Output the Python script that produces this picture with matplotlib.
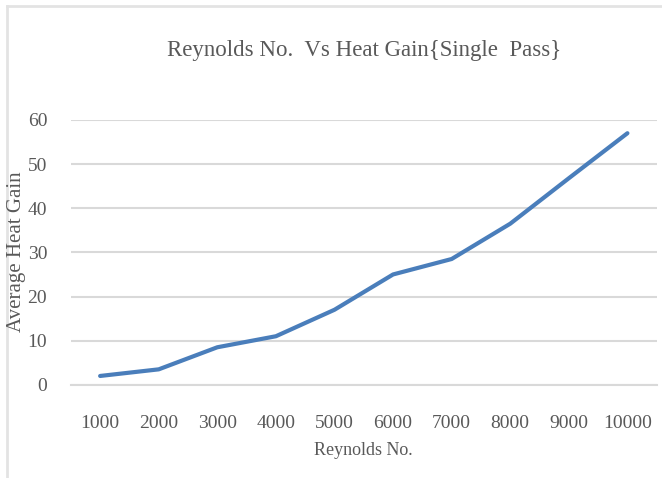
import matplotlib.pyplot as plt
from matplotlib.lines import Line2D

reynolds = ['1000', '2000', '3000', '4000', '5000', '6000', '7000', '8000', '9000', '10000']
heat_gain = [2.0, 3.5, 8.5, 11.0, 17.0, 25.0, 28.5, 36.5, 46.8, 57.0]
y_ticks = [0, 10, 20, 30, 40, 50, 60]

text_color = '#595959'
grid_color = '#D9D9D9'
plt.rcParams['font.family'] = ['Liberation Serif', 'DejaVu Serif']

fig = plt.figure(figsize=(6.62, 4.78), dpi=100)
ax = fig.add_axes([0.107, 0.195, 0.885, 0.554])

x = range(len(reynolds))
ax.plot(x, heat_gain, color='#4A7EBB', linewidth=3.0, solid_capstyle='round', zorder=3)

ax.set_xlim(-0.5, len(reynolds) - 0.5)
ax.set_ylim(0, 60)
ax.set_yticks(y_ticks)
ax.set_xticks(list(x))
ax.set_xticklabels(reynolds)
ax.grid(axis='y', color=grid_color, linewidth=1.5)
ax.set_axisbelow(True)
for side in ['top', 'right', 'left']:
    ax.spines[side].set_visible(False)
ax.spines['bottom'].set_color(grid_color)
ax.spines['bottom'].set_linewidth(1.5)
ax.tick_params(length=0, colors=text_color, labelsize=14)
ax.tick_params(axis='y', pad=17)
ax.tick_params(axis='x', pad=22)

ax.set_title('Reynolds No.  Vs Heat Gain{Single  Pass}', color=text_color,
             fontsize=16.5, pad=46)
ax.set_xlabel('Reynolds No.', color=text_color, fontsize=13, labelpad=7)
fig.text(0.025, 0.473, 'Average Heat Gain', rotation=90, color=text_color,
         fontsize=15, ha='center', va='center')

# chart border (only left and top visible in the source)
fig.add_artist(Line2D([0.011, 0.011], [0.0, 0.987], color='#E3E3E3', linewidth=2,
                      transform=fig.transFigure))
fig.add_artist(Line2D([0.011, 1.0], [0.987, 0.987], color='#E3E3E3', linewidth=2,
                      transform=fig.transFigure))

fig.savefig('out.png', dpi=100)
